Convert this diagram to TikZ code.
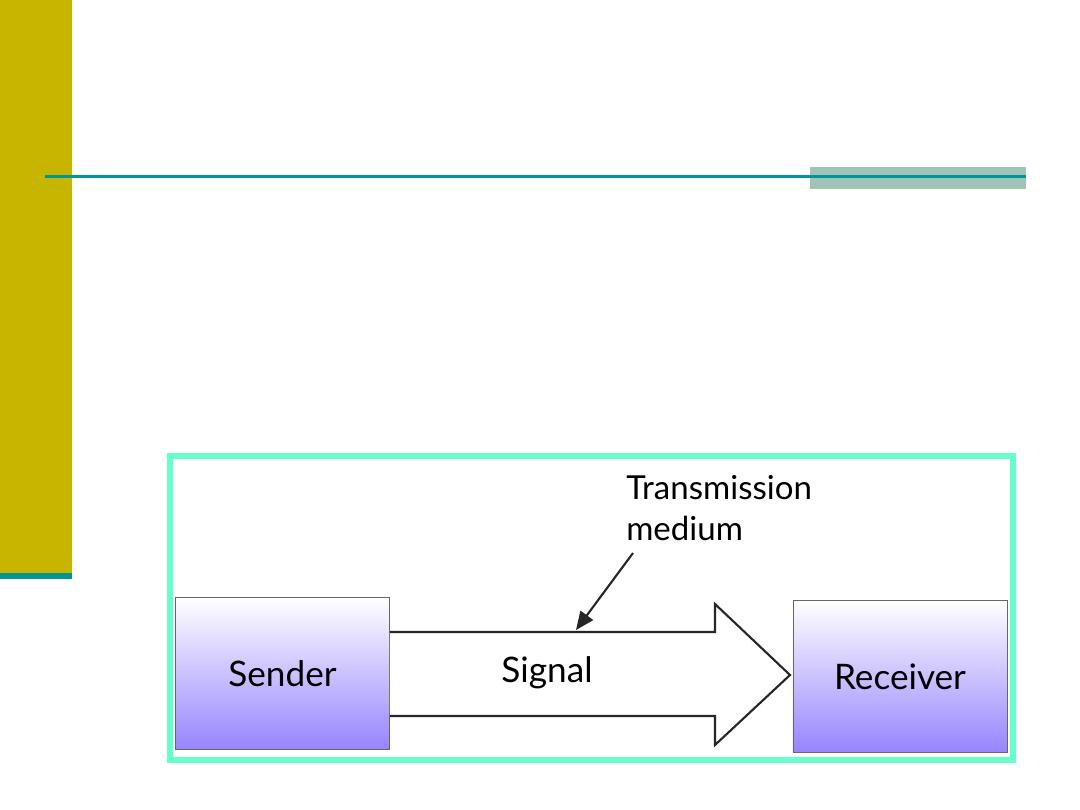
\documentclass[tikz,border=0pt]{standalone}
\usepackage{fontspec}
\setmainfont{Lato}
\usetikzlibrary{positioning,arrows.meta}

\definecolor{olive}{RGB}{200,181,0}
\definecolor{tealline}{RGB}{0,150,150}
\definecolor{sage}{RGB}{160,196,181}
\definecolor{mint}{RGB}{102,255,204}
\definecolor{lilac}{RGB}{150,132,255}

\tikzstyle{box} = [draw=black!60, line width=0.6pt, top color=white, bottom color=lilac,
                   minimum width=5.35cm, minimum height=3.78cm, inner sep=0pt,
                   font=\fontsize{25}{30}\selectfont]
\tikzstyle{txt} = [font=\fontsize{25}{30}\selectfont, inner sep=0pt]
\tikzstyle{note} = [font=\fontsize{23.5}{29.5}\selectfont, inner sep=0pt]

\begin{document}
\begin{tikzpicture}[x=0.025cm, y=-0.025cm]
\useasboundingbox (0,0) rectangle (1080,810);
% slide decoration
\fill[olive] (0,0) rectangle (72,573);
\fill[tealline] (0,573) rectangle (72,579);
\fill[sage] (810,167) rectangle (1026,189);
\draw[tealline, line width=2.2pt] (45,176.5) -- (1026,176.5);
% frame
\draw[mint, line width=3.8pt] (170,456) rectangle (1013,760);
% boxes
\node[box] (sender) at (282.5,673.5) {Sender};
\node[box] (receiver) at (900,676.5) {Receiver};
% signal arrow
\coordinate (tip) at (790,675);
\draw[black!85, line width=1.5pt, line join=miter, fill=white]
    (sender.east |- 0,632) -- (715,632) -- (715,604) -- (tip)
    -- (715,745) -- (715,716) -- (sender.east |- 0,716);
\node[txt] (signal) at (547,673) {Signal};
% medium label
\node[note, anchor=north west, align=left] (medium) at (626,475) {Transmission\\medium};
\coordinate (hit) at (576,630);
\draw[black!85, line width=1.5pt, -{Triangle[length=13pt, width=11pt]}]
    (633,553) -- (hit);
\end{tikzpicture}
\end{document}
